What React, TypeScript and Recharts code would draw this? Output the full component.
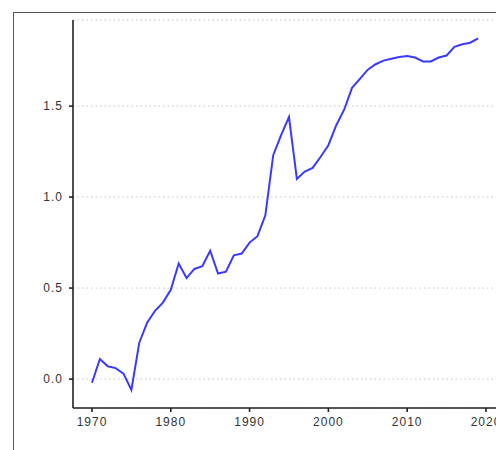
import React from 'react';
import { LineChart, Line, XAxis, YAxis, CartesianGrid } from 'recharts';

// yearly values of the index
const years = [
  1970, 1971, 1972, 1973, 1974, 1975, 1976, 1977, 1978, 1979,
  1980, 1981, 1982, 1983, 1984, 1985, 1986, 1987, 1988, 1989,
  1990, 1991, 1992, 1993, 1994, 1995, 1996, 1997, 1998, 1999,
  2000, 2001, 2002, 2003, 2004, 2005, 2006, 2007, 2008, 2009,
  2010, 2011, 2012, 2013, 2014, 2015, 2016, 2017, 2018, 2019,
];
const values = [
  -0.02, 0.11, 0.07, 0.06, 0.03, -0.06, 0.2, 0.31, 0.375, 0.42,
  0.49, 0.635, 0.555, 0.605, 0.62, 0.705, 0.58, 0.59, 0.68, 0.69,
  0.75, 0.785, 0.9, 1.23, 1.34, 1.44, 1.1, 1.14, 1.16, 1.22,
  1.285, 1.395, 1.48, 1.6, 1.65, 1.7, 1.73, 1.75, 1.76, 1.77,
  1.775, 1.767, 1.745, 1.745, 1.767, 1.778, 1.826, 1.84, 1.848, 1.872,
];
const xTicks = [1970, 1980, 1990, 2000, 2010, 2020];
const yTicks = [0, 0.5, 1, 1.5];

const data = years.map((year, i) => ({ year, value: values[i] }));

const tickStyle = {
  fill: '#333',
  fontSize: 12,
  fontFamily: '"Liberation Sans", Arial, sans-serif',
  letterSpacing: '1px',
};

export default function App() {
  return (
    <div
      style={{
        position: 'fixed',
        left: 0,
        top: 0,
        width: 496,
        height: 450,
        overflow: 'hidden',
        background: '#fff',
      }}
    >
      {/* outer frame, clipped on the right and bottom */}
      <div
        style={{
          position: 'absolute',
          left: 13,
          top: 12,
          right: -10,
          bottom: -10,
          borderLeft: '1px solid #555',
          borderTop: '1px solid #555',
        }}
      />
      <div style={{ position: 'absolute', left: 0, top: 0 }}>
        <LineChart
          width={520}
          height={450}
          data={data}
          margin={{ top: 20, right: 2.5, left: 13, bottom: 12 }}
        >
          <CartesianGrid
            vertical={false}
            stroke="#c4c4c4"
            strokeDasharray="1.5 3"
          />
          <XAxis
            dataKey="year"
            type="number"
            domain={[1967.59, 2024]}
            allowDataOverflow
            ticks={xTicks}
            height={30}
            stroke="#222"
            strokeWidth={1.6}
            tickSize={4}
            tickMargin={5}
            tick={tickStyle}
          />
          <YAxis
            type="number"
            domain={[-0.159, 1.973]}
            allowDataOverflow
            ticks={yTicks}
            width={60}
            stroke="#222"
            strokeWidth={1.6}
            tickSize={4}
            tickMargin={6}
            tick={tickStyle}
            tickFormatter={(v: number) => v.toFixed(1)}
          />
          <Line
            type="linear"
            dataKey="value"
            stroke="#3a3aff"
            strokeWidth={2}
            dot={false}
            isAnimationActive={false}
          />
        </LineChart>
      </div>
    </div>
  );
}
